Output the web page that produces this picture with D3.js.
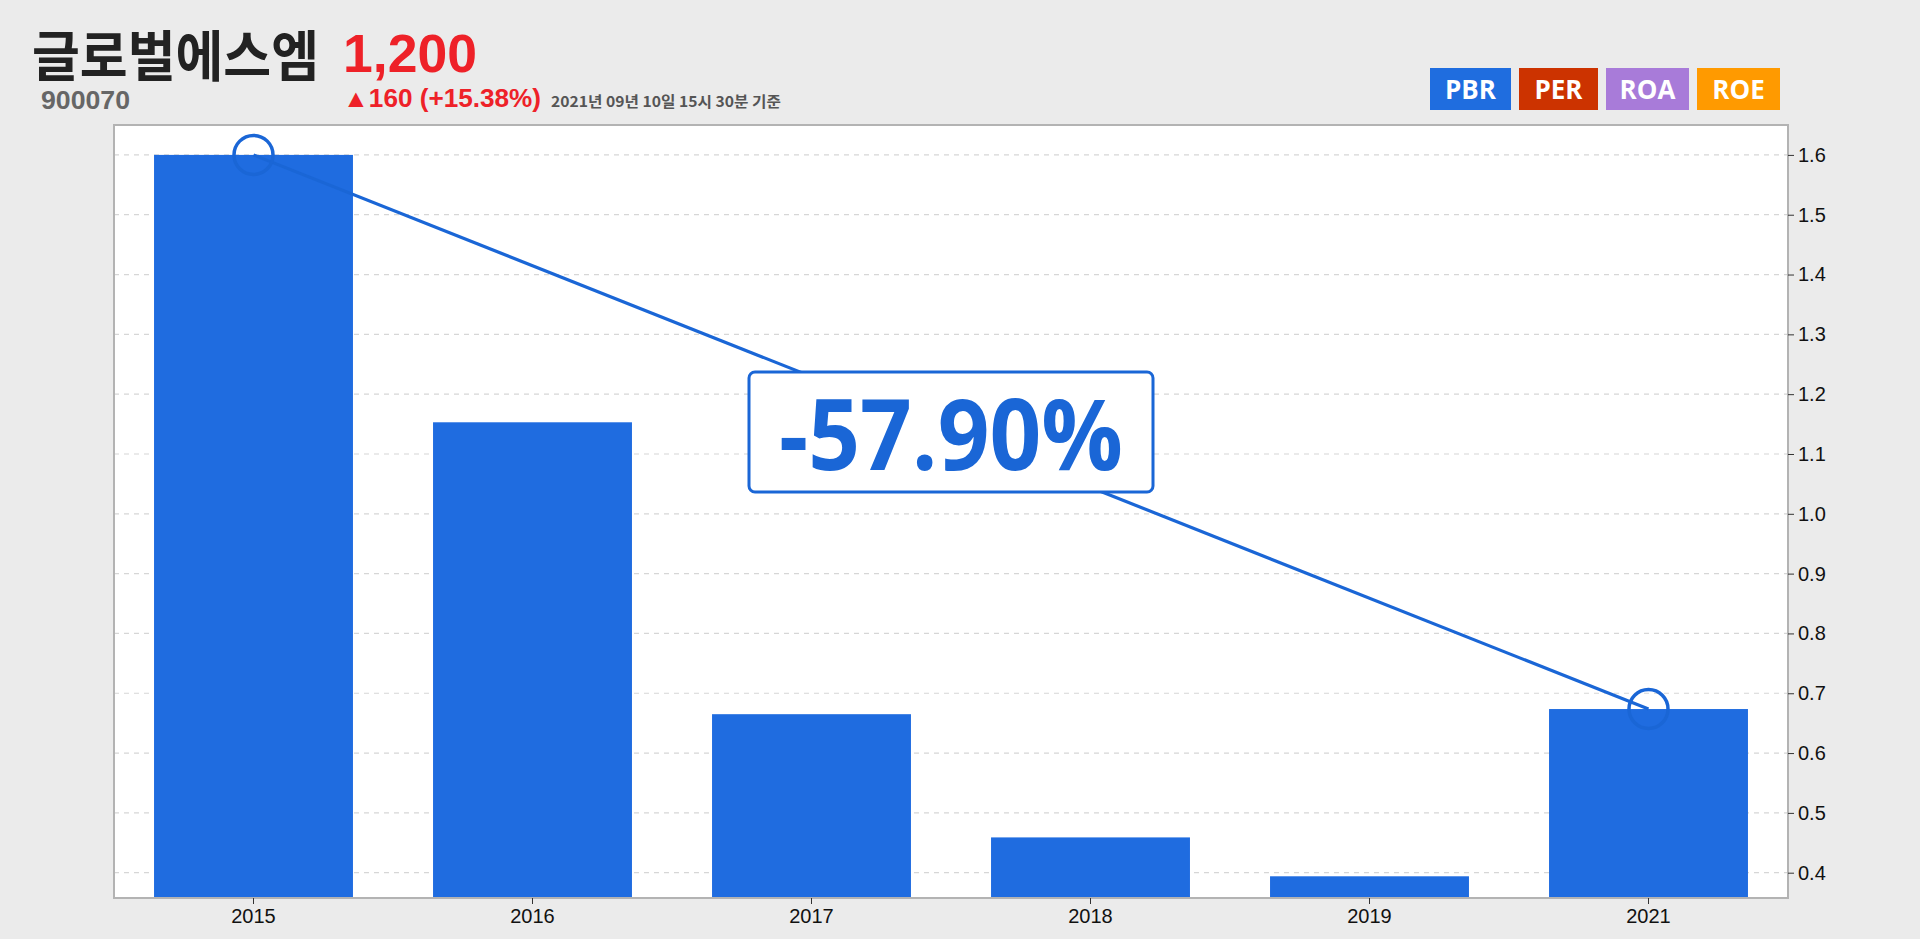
<!DOCTYPE html>
<html><head><meta charset="utf-8">
<script src="https://cdn.jsdelivr.net/npm/d3@7"></script>
<style>
html,body{margin:0;padding:0;background:#ebebeb;}
svg{display:block;}
</style></head>
<body>
<svg id="c" width="1920" height="939"></svg>
<script>
const years = ["2015","2016","2017","2018","2019","2021"];
const pbr = [1.60, 1.153, 0.665, 0.459, 0.394, 0.6736];
const yTicks = [0.4,0.5,0.6,0.7,0.8,0.9,1.0,1.1,1.2,1.3,1.4,1.5,1.6];
const legendNames = ["PBR","PER","ROA","ROE"];
const legendColors = ["#1f6ddf","#cc3300","#a87bd9","#ff9a00"];
const companyName = "글로벌에스엠";
const companyCode = "900070";
const priceText = "1,200";
const changeText = "▲160 (+15.38%)";
const dateText = "2021년 09년 10일 15시 30분 기준";

const svg = d3.select("#c");
const L=114, R=1788, T=125, B=898;
const blue = "#1f6ce0", lineBlue = "#1a66d6";

// header
svg.append("text").attr("x",32).attr("y",76).attr("font-family","'Liberation Sans','Noto Sans CJK KR'")
  .attr("font-weight",700).attr("font-size",55).attr("fill","#222")
  .attr("textLength",287).attr("lengthAdjust","spacingAndGlyphs").text(companyName);
svg.append("text").attr("x",41).attr("y",109).attr("font-family","'Liberation Sans'")
  .attr("font-weight",700).attr("font-size",25).attr("fill","#666")
  .attr("textLength",89).attr("lengthAdjust","spacingAndGlyphs").text(companyCode);
svg.append("text").attr("x",343).attr("y",72).attr("font-family","'Liberation Sans'")
  .attr("font-weight",700).attr("font-size",53).attr("fill","#ee2128")
  .attr("textLength",134).attr("lengthAdjust","spacingAndGlyphs").text(priceText);
svg.append("text").attr("x",343).attr("y",107).attr("font-family","'Liberation Sans'")
  .attr("font-weight",700).attr("font-size",25).attr("fill","#ee2128")
  .attr("textLength",198).attr("lengthAdjust","spacingAndGlyphs").text(changeText);
svg.append("text").attr("x",551).attr("y",107).attr("font-family","'Noto Sans CJK KR'")
  .attr("font-weight",700).attr("font-size",15).attr("fill","#555")
  .attr("textLength",230).attr("lengthAdjust","spacingAndGlyphs").text(dateText);

// legend
const legX = [1430,1519,1606,1697], legW=[81,79,83,83];
const lg = svg.append("g");
legendNames.forEach((n,i)=>{
  lg.append("rect").attr("x",legX[i]).attr("y",68).attr("width",legW[i]).attr("height",42).attr("fill",legendColors[i]);
  lg.append("text").attr("x",legX[i]+legW[i]/2).attr("y",99).attr("text-anchor","middle")
    .attr("font-family","'Open Sans'").attr("font-weight",700).attr("font-size",26).attr("fill","#fff").text(n);
});

// scales
const x = d3.scaleBand().domain(years).range([L,R]).paddingInner(0.287).paddingOuter(0.1435);
const y = d3.scaleLinear().domain([0.3577,1.650]).range([B,T]);

// plot bg
svg.append("rect").attr("x",L).attr("y",T).attr("width",R-L).attr("height",B-T).attr("fill","#fff");

// grid
svg.append("g").selectAll("line").data(yTicks).join("line")
  .attr("x1",L).attr("x2",R).attr("y1",d=>y(d)).attr("y2",d=>y(d))
  .attr("stroke","#d6d6d6").attr("stroke-width",1.2).attr("stroke-dasharray","5,5");

// bars
svg.append("g").selectAll("rect").data(years).join("rect")
  .attr("x",d=>x(d)).attr("width",x.bandwidth())
  .attr("y",(d,i)=>y(pbr[i])).attr("height",(d,i)=>B-y(pbr[i])).attr("fill",blue);

// border
svg.append("rect").attr("x",L).attr("y",T).attr("width",R-L).attr("height",B-T)
  .attr("fill","none").attr("stroke","#b3b3b3").attr("stroke-width",2);

// axes
const xa = svg.append("g").attr("transform",`translate(0,${B})`)
  .call(d3.axisBottom(x).tickSize(6).tickSizeOuter(0));
xa.select(".domain").remove();
xa.selectAll("line").attr("stroke","#333");
xa.selectAll("text").attr("font-family","'Liberation Sans'").attr("font-size",20).attr("fill","#111").attr("dy","0.95em").attr("y",6);

const ya = svg.append("g").attr("transform",`translate(${R},0)`)
  .call(d3.axisRight(y).tickValues(yTicks).tickFormat(d3.format(".1f")).tickSize(6).tickSizeOuter(0));
ya.select(".domain").remove();
ya.selectAll("line").attr("stroke","#333");
ya.selectAll("text").attr("font-family","'Liberation Sans'").attr("font-size",20).attr("fill","#111").attr("x",10);

// change line
const n = years.length-1;
const p0 = [x(years[0])+x.bandwidth()/2, y(pbr[0])];
const p1 = [x(years[n])+x.bandwidth()/2, y(pbr[n])];
svg.append("line").attr("x1",p0[0]).attr("y1",p0[1]).attr("x2",p1[0]).attr("y2",p1[1])
  .attr("stroke",lineBlue).attr("stroke-width",3.2);
[p0,p1].forEach(p=>{
  svg.append("circle").attr("cx",p[0]).attr("cy",p[1]).attr("r",19.5)
    .attr("fill","none").attr("stroke",lineBlue).attr("stroke-width",3.5);
});

// annotation
const pct = (pbr[n]/pbr[0]-1)*100;
const mx = (p0[0]+p1[0])/2, my = (p0[1]+p1[1])/2;
svg.append("rect").attr("x",mx-202).attr("y",my-60).attr("width",404).attr("height",120)
  .attr("rx",6).attr("fill","#fff").attr("stroke",lineBlue).attr("stroke-width",3);
svg.append("text").attr("x",mx).attr("y",my+38).attr("text-anchor","middle")
  .attr("font-family","'Open Sans'").attr("font-weight",700).attr("font-size",98).attr("fill",lineBlue)
  .attr("textLength",344).attr("lengthAdjust","spacingAndGlyphs").text(pct.toFixed(2)+"%");
</script>
</body></html>
